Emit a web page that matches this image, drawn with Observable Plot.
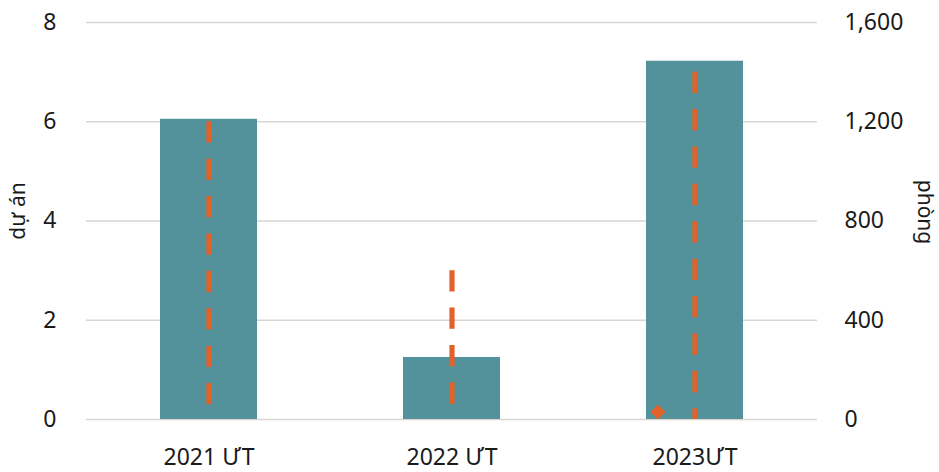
<!DOCTYPE html>
<html>
<head>
<meta charset="utf-8">
<script src="https://cdn.jsdelivr.net/npm/d3@7"></script>
<script src="https://cdn.jsdelivr.net/npm/@observablehq/plot@0.6"></script>
<style>
  html, body { margin: 0; padding: 0; background: #fff; }
  #chart svg { display: block; }
</style>
</head>
<body>
<div id="chart"></div>
<script>
// ---- data ----
const categories = ["2021 ƯT", "2022 ƯT", "2023ƯT"];
const projects = [6.05, 1.25, 7.22];          // dự án (left axis)
const rooms = [1200, 600, 1400];              // phòng (right axis, dashed lines)
const markerCategories = ["2023ƯT"];
const markerRooms = [30];                     // phòng (right axis, diamond)
const leftTicks = [0, 2, 4, 6, 8];
const rightTicks = [0, 400, 800, 1200, 1600];
const leftLabel = "dự án";
const rightLabel = "phòng";

const leftMax = leftTicks[leftTicks.length - 1];
const rightMax = rightTicks[rightTicks.length - 1];
const k = rightMax / leftMax;

const table = categories.map((c, i) => ({cat: c, projects: projects[i], rooms: rooms[i] / k}));
const markers = markerCategories.map((c, i) => ({cat: c, rooms: markerRooms[i] / k}));

const teal = "#53929B";
const orange = "#E1622A";
const gridColor = "#D9D5D1";
const fmt = d3.format(",");

const chart = Plot.plot({
  width: 939,
  height: 472,
  marginLeft: 86,
  marginRight: 122,
  marginTop: 22,
  marginBottom: 53,
  style: {fontFamily: "'Noto Sans', 'Open Sans', sans-serif", fontSize: "23px", color: "#1a1a1a", background: "#fff"},
  x: {domain: categories, padding: 0},
  y: {domain: [0, leftMax]},
  marks: [
    Plot.gridY(leftTicks, {stroke: gridColor, strokeOpacity: 1, strokeWidth: 1.6}),
    Plot.barY(table, {x: "cat", y: "projects", fill: teal, insetLeft: 73, insetRight: 73}),
    Plot.ruleX(table, {x: "cat", y1: "rooms", y2: () => 0, stroke: orange, strokeWidth: 5.2, strokeDasharray: "21.3,16.1"}),
    Plot.dot(markers, {x: "cat", y: "rooms", symbol: "diamond2", r: 6.8, fill: orange, stroke: "none", dx: -37}),
    Plot.axisX({ticks: categories, tickSize: 0, tickPadding: 29, label: null, fontSize: 23}),
    Plot.axisY({anchor: "left", ticks: leftTicks, tickSize: 0, tickPadding: 30, label: null, fontSize: 23}),
    Plot.axisY({anchor: "right", ticks: leftTicks, tickSize: 0, tickPadding: 27, label: null, fontSize: 23,
      tickFormat: d => fmt(d * k)}),
    Plot.text([leftLabel], {frameAnchor: "left", textAnchor: "middle", rotate: -90, dx: -68, dy: -10, fontSize: 21, fill: "#1a1a1a"}),
    Plot.text([rightLabel], {frameAnchor: "right", textAnchor: "middle", rotate: 90, dx: 107, dy: -9, fontSize: 21, fill: "#1a1a1a"})
  ]
});
document.getElementById("chart").appendChild(chart);
</script>
</body>
</html>
